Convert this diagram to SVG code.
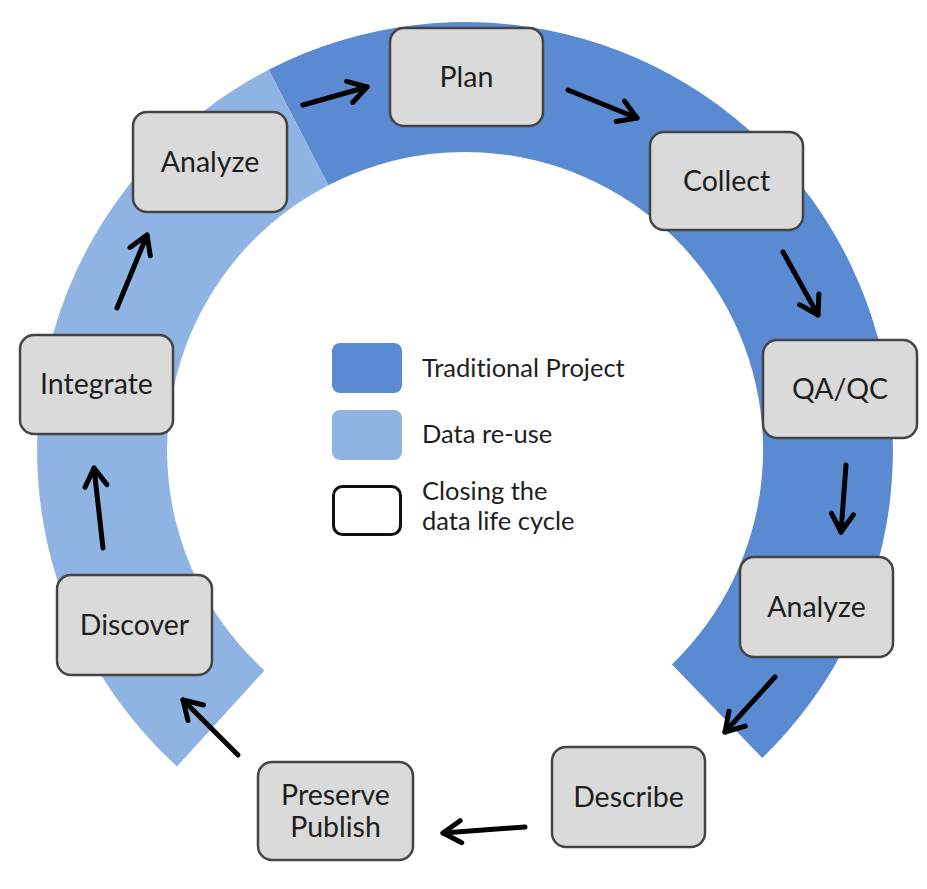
<svg xmlns="http://www.w3.org/2000/svg" width="927" height="889" viewBox="0 0 927 889">
  <defs>
    <style>
      text { font-variant-ligatures: none; }
      .node rect { fill: #dadada; stroke: #444444; stroke-width: 2.5; }
      .node text { font-family: Lato, "Liberation Sans", sans-serif; font-size: 28.5px; fill: #1e1e1e; text-anchor: middle; }
      .legend text { font-family: Lato, "Liberation Sans", sans-serif; font-size: 25.5px; fill: #1e1e1e; }
      .conn path { fill: none; stroke: #000000; stroke-width: 5; stroke-linecap: round; }
    </style>
    <marker id="arrow" viewBox="0 0 24 24" refX="20" refY="12" markerWidth="24" markerHeight="24" markerUnits="userSpaceOnUse" orient="auto" overflow="visible">
      <path d="M2,1 L20,12 L2,23" fill="none" stroke="#000000" stroke-width="5" stroke-linecap="round" stroke-linejoin="round"/>
    </marker>
  </defs>

  <rect width="927" height="889" fill="#ffffff"/>

  <g id="ring">
    <path id="ring-traditional" d="M268.7,69.7 A428,428 0 0 1 762.3,757.9 L672.0,664.4 A298,298 0 0 0 328.3,185.2 Z" fill="#5a8ad2"/>
    <path id="ring-reuse" d="M177.0,766.5 A428,428 0 0 1 268.7,69.7 L328.3,185.2 A298,298 0 0 0 264.5,670.4 Z" fill="#8fb4e3"/>
  </g>

  <g id="connectors" class="conn">
    <path d="M303,105 L367,87" marker-end="url(#arrow)"/>
    <path d="M568,90 L637,118" marker-end="url(#arrow)"/>
    <path d="M783,252 L818,315" marker-end="url(#arrow)"/>
    <path d="M846,465 L841,532" marker-end="url(#arrow)"/>
    <path d="M775,677 L725,732" marker-end="url(#arrow)"/>
    <path d="M525,827 L443,833" marker-end="url(#arrow)"/>
    <path d="M238,755 L183,700" marker-end="url(#arrow)"/>
    <path d="M103,548 L94,468" marker-end="url(#arrow)"/>
    <path d="M117,308 L147,235" marker-end="url(#arrow)"/>
  </g>

  <g id="node-plan" class="node">
    <rect x="390" y="28" width="153" height="98" rx="14"/>
    <text x="466.5" y="87">Plan</text>
  </g>
  <g id="node-collect" class="node">
    <rect x="650" y="132" width="153" height="98" rx="14"/>
    <text x="726.5" y="191">Collect</text>
  </g>
  <g id="node-qaqc" class="node">
    <rect x="763" y="340" width="154" height="98" rx="14"/>
    <text x="840" y="399">QA/QC</text>
  </g>
  <g id="node-analyze-right" class="node">
    <rect x="740" y="557" width="153" height="100" rx="14"/>
    <text x="816.5" y="617">Analyze</text>
  </g>
  <g id="node-describe" class="node">
    <rect x="552" y="747" width="153" height="100" rx="14"/>
    <text x="628.5" y="807">Describe</text>
  </g>
  <g id="node-preserve" class="node">
    <rect x="258" y="762" width="155" height="98" rx="14"/>
    <text x="335.5" y="805">Preserve</text>
    <text x="335.5" y="837">Publish</text>
  </g>
  <g id="node-discover" class="node">
    <rect x="57" y="575" width="155" height="100" rx="14"/>
    <text x="134.5" y="635">Discover</text>
  </g>
  <g id="node-integrate" class="node">
    <rect x="20" y="335" width="153" height="99" rx="14"/>
    <text x="96.5" y="394">Integrate</text>
  </g>
  <g id="node-analyze-left" class="node">
    <rect x="133" y="112" width="154" height="100" rx="14"/>
    <text x="210" y="172">Analyze</text>
  </g>

  <g id="legend" class="legend">
    <rect x="332" y="343" width="70" height="50" rx="8" fill="#5a8ad2"/>
    <text x="422" y="377">Traditional Project</text>
    <rect x="332" y="410" width="70" height="50" rx="8" fill="#8fb4e3"/>
    <text x="422" y="443">Data re-use</text>
    <rect x="333.5" y="486.5" width="67" height="48" rx="9" fill="#ffffff" stroke="#111111" stroke-width="3"/>
    <text x="422" y="500">Closing the</text>
    <text x="422" y="530">data life cycle</text>
  </g>
</svg>
